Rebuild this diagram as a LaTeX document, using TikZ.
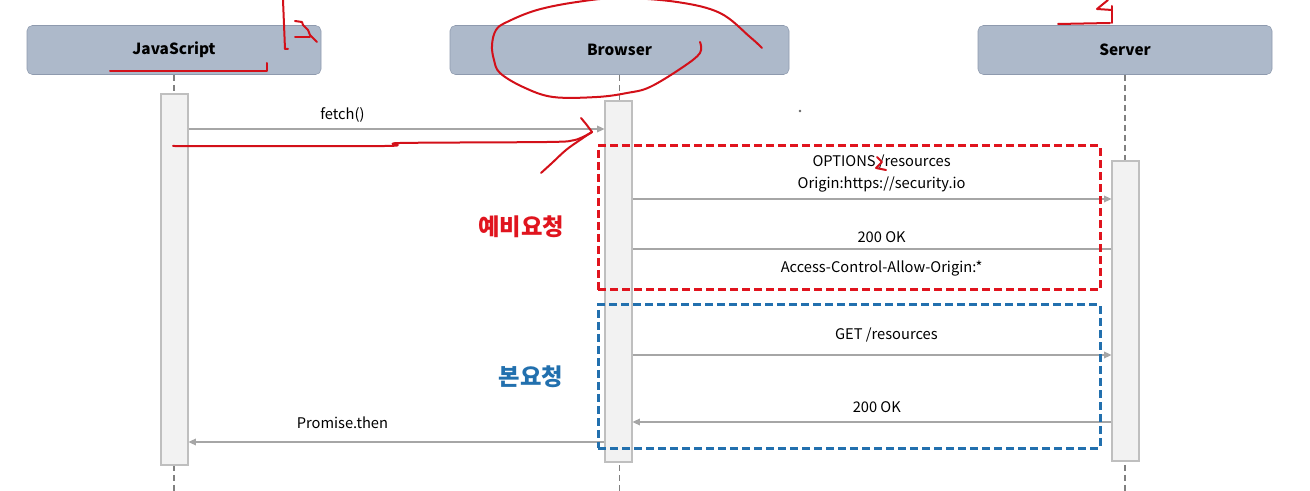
\documentclass[tikz,border=0pt]{standalone}
\usepackage{fontspec}
\setmainfont{Noto Sans CJK KR}
\usetikzlibrary{arrows.meta,fit}
\definecolor{headfill}{HTML}{ADB9CA}
\definecolor{headline}{HTML}{8E9AAE}
\definecolor{lifegray}{HTML}{808080}
\definecolor{actfill}{HTML}{F2F2F2}
\definecolor{actline}{HTML}{BFBFBF}
\definecolor{msgline}{HTML}{A6A6A6}
\definecolor{prered}{HTML}{E0141E}
\definecolor{mainblue}{HTML}{2270AE}
\definecolor{penred}{HTML}{D31019}

\begin{document}
\begin{tikzpicture}[x=0.75pt,y=-0.75pt,
   every node/.style={font=\fontsize{11}{17}\selectfont},
   head/.style={draw=headline,fill=headfill,rounded corners=4pt,inner sep=0pt,
                minimum width=220.5pt,minimum height=36.75pt,
                font=\fontsize{11.5}{13}\selectfont\bfseries},
   lifeline/.style={draw=lifegray,line width=0.9pt,dash pattern=on 4.5pt off 3pt},
   bar/.style={draw=actline,fill=actfill,inner sep=0pt,line width=0.8pt},
   msg/.style={draw=msgline,line width=0.9pt,-{Triangle[length=5.5pt,width=5pt]}},
   plainmsg/.style={draw=msgline,line width=0.9pt},
   group/.style={inner sep=0pt,line width=2.25pt,dash pattern=on 6pt off 3pt},
   grouptitle/.style={font=\fontsize{17.5}{19}\selectfont\bfseries},
   pen/.style={draw=penred,line width=1.5pt,line cap=round,line join=round}]

\useasboundingbox (0,0) rectangle (1310,491);

% participants
\node[head] (js) at (174,50) {JavaScript};
\node[head,minimum width=254.25pt] (br) at (619.5,50) {Browser};
\node[head] (sv) at (1125,50) {Server};

\foreach \n in {js,br,sv}
   \draw[lifeline] (\n.south) -- (\n.south |- 0,491);

% activations
\node[bar,fit={(161,94) (188,465)}] (jsbar) {};
\node[bar,fit={(605,101) (632,462)}] (brbar) {};
\node[bar,fit={(1112,161) (1139,461)}] (svbar) {};

% messages
\draw[msg] (jsbar.east |- 0,129) -- node[pos=.37,above=1pt] {fetch()} (brbar.west |- 0,129);
\draw[msg] (brbar.east |- 0,199) -- node[pos=.52,above=1pt,align=center]
   {OPTIONS /resources\\Origin:https://security.io} (svbar.west |- 0,199);
\draw[plainmsg] (svbar.west |- 0,249) -- node[pos=.48,above=1pt] {200 OK}
   node[pos=.48,below=5pt] {Access-Control-Allow-Origin:*} (brbar.east |- 0,249);
\draw[msg] (brbar.east |- 0,355) -- node[pos=.53,above=6pt] {GET /resources} (svbar.west |- 0,355);
\draw[msg] (svbar.west |- 0,422) -- node[pos=.49,above=3pt] {200 OK} (brbar.east |- 0,422);
\draw[msg] (brbar.west |- 0,442) -- node[pos=.63,above=6pt] {Promise.then} (jsbar.east |- 0,442);

% request groups
\node[group,draw=prered,fit={(598,146) (1100,290)}] (preflight) {};
\node[grouptitle,text=prered] (pretitle) at (521,227) {예비요청};
\node[group,draw=mainblue,fit={(598,305) (1100,448)}] (mainreq) {};
\node[grouptitle,text=mainblue] (maintitle) at (531,377) {본요청};

% pen marks
\draw[pen] (283,0) -- (285,49) -- (288,49);
\draw[pen] (295,21) -- (302,22) -- (303,25) -- (308,30) -- (310,35) -- (317,42);
\draw[pen] (295,37) -- (310,37);
\draw[pen] (110,71) -- (267,71) -- (267,63);
\draw[pen] plot[smooth,tension=.6] coordinates {(700,42) (700,53) (683,67) (650,87) (627,93)
   (597,97) (553,97) (523,87) (500,73) (494,60) (492,45) (496,30) (507,22) (537,10) (577,2)
   (620,-2) (677,2) (720,13) (750,37) (762,48)};
\draw[pen] (1058,24) -- (1110,23);
\draw[pen] (1112,6) -- (1112,23);
\draw[pen] (1108,0) -- (1097,9) -- (1112,10);
\draw[pen] plot[smooth,tension=.5] coordinates {(173,146) (385,146) (400,143) (547,142)
   (575,140) (592,132)};
\draw[pen] (581,118) -- (586,124) -- (592,132);
\draw[pen] plot[smooth,tension=.6] coordinates {(541,173) (552,163) (566,150) (580,140) (592,132)};
\draw[pen] (877,157) -- (882,162) -- (876,168) -- (886,170);
\fill[black!60] (800,111) circle (1pt);

\end{tikzpicture}
\end{document}
